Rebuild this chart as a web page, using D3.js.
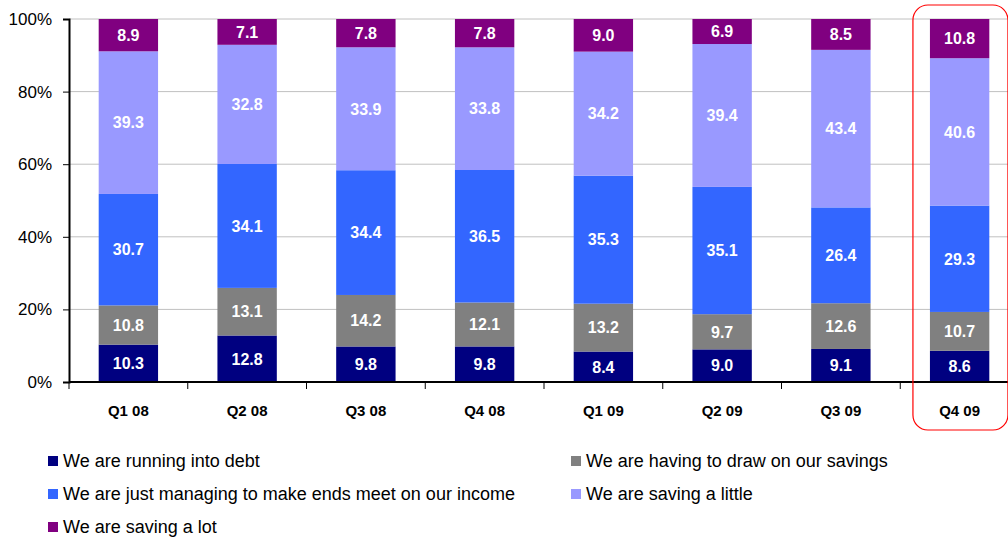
<!DOCTYPE html>
<html>
<head>
<meta charset="utf-8">
<script src="https://cdn.jsdelivr.net/npm/d3@7"></script>
<style>
  body { margin: 0; background: #fff; }
  text { font-family: Arial, "Liberation Sans", sans-serif; }
</style>
</head>
<body>
<div id="canvas"></div>
<script>
"use strict"

// data
let quarters = ["Q1 08", "Q2 08", "Q3 08", "Q4 08", "Q1 09", "Q2 09", "Q3 09", "Q4 09"];
let debt = [10.3, 12.8, 9.8, 9.8, 8.4, 9.0, 9.1, 8.6];
let drawSavings = [10.8, 13.1, 14.2, 12.1, 13.2, 9.7, 12.6, 10.7];
let justManaging = [30.7, 34.1, 34.4, 36.5, 35.3, 35.1, 26.4, 29.3];
let savingLittle = [39.3, 32.8, 33.9, 33.8, 34.2, 39.4, 43.4, 40.6];
let savingLot = [8.9, 7.1, 7.8, 7.8, 9.0, 6.9, 8.5, 10.8];
let yTicks = [0, 0.2, 0.4, 0.6, 0.8, 1];

let seriesNames = [
    "We are running into debt",
    "We are having to draw on our savings",
    "We are just managing to make ends meet on our income",
    "We are saving a little",
    "We are saving a lot"
];
let seriesColors = ["#000080", "#808080", "#3366FF", "#9999FF", "#800080"];
let seriesValues = [debt, drawSavings, justManaging, savingLittle, savingLot];

let rows = quarters.map(function (q, i) {
    let row = { quarter: q };
    seriesNames.forEach(function (name, s) { row[name] = seriesValues[s][i]; });
    return row;
});

let drawing = d3.select("#canvas")
    .append("svg")
    .attr("width", 1008)
    .attr("height", 540);

let plotLeft = 69, plotTop = 19, plotBottom = 382;

let x = d3.scaleBand()
    .domain(quarters)
    .range([plotLeft, 1019])
    .paddingInner(0.5)
    .paddingOuter(0.25);

let y = d3.scaleLinear()
    .domain([0, 1])
    .range([plotBottom, plotTop]);

let stacked = d3.stack()
    .keys(seriesNames)
    .offset(d3.stackOffsetExpand)(rows);

// gridlines
drawing.append("g")
    .selectAll("line")
    .data(yTicks.slice(1))
    .join("line")
    .attr("x1", plotLeft)
    .attr("x2", 1008)
    .attr("y1", d => y(d))
    .attr("y2", d => y(d))
    .attr("stroke", "#C0C0C0")
    .attr("stroke-width", 1);

// bars
let layers = drawing.append("g")
    .selectAll("g")
    .data(stacked)
    .join("g")
    .attr("fill", (d, i) => seriesColors[i]);

layers.selectAll("rect")
    .data(d => d)
    .join("rect")
    .attr("x", d => x(d.data.quarter))
    .attr("width", x.bandwidth())
    .attr("y", d => y(d[1]))
    .attr("height", d => y(d[0]) - y(d[1]));

// value labels
layers.selectAll("text")
    .data((d, i) => d.map(p => ({ p: p, v: seriesValues[i][quarters.indexOf(p.data.quarter)] })))
    .join("text")
    .attr("x", d => x(d.p.data.quarter) + x.bandwidth() / 2)
    .attr("y", d => (y(d.p[0]) + y(d.p[1])) / 2)
    .attr("dy", "0.36em")
    .attr("text-anchor", "middle")
    .attr("fill", "white")
    .attr("font-size", 16)
    .attr("font-weight", "bold")
    .text(d => d.v.toFixed(1));

// y axis
let yAxis = drawing.append("g")
    .attr("transform", "translate(" + plotLeft + ",0)")
    .call(d3.axisLeft(y).tickValues(yTicks).tickFormat(d3.format(".0%")).tickSize(6));
yAxis.select(".domain").attr("stroke", "black").attr("stroke-width", 2);
yAxis.selectAll(".tick line").attr("stroke", "black").attr("stroke-width", 1);
yAxis.selectAll(".tick text")
    .attr("font-size", 17)
    .attr("fill", "#000")
    .attr("x", -17)
    .style("font-family", "Arial, 'Liberation Sans', sans-serif");

// x axis
drawing.append("line")
    .attr("x1", plotLeft)
    .attr("x2", 1008)
    .attr("y1", plotBottom)
    .attr("y2", plotBottom)
    .attr("stroke", "black")
    .attr("stroke-width", 2);

let step = x.step();
drawing.append("g")
    .selectAll("line")
    .data(quarters)
    .join("line")
    .attr("x1", d => x(d) - step * 0.25)
    .attr("x2", d => x(d) - step * 0.25)
    .attr("y1", plotBottom)
    .attr("y2", plotBottom + 7)
    .attr("stroke", "black");

drawing.append("g")
    .selectAll("text")
    .data(quarters)
    .join("text")
    .attr("x", d => x(d) + x.bandwidth() / 2)
    .attr("y", 416)
    .attr("text-anchor", "middle")
    .attr("font-size", 15)
    .attr("font-weight", "bold")
    .text(d => d);

// highlight box around last quarter
let lastQ = quarters[quarters.length - 1];
drawing.append("rect")
    .attr("x", x(lastQ) - 17)
    .attr("y", 5)
    .attr("width", 95)
    .attr("height", 425)
    .attr("rx", 15)
    .attr("fill", "none")
    .attr("stroke", "#FF0000")
    .attr("stroke-width", 1.2);

// legend
let legendPos = [[48, 461], [571, 461], [48, 494], [571, 494], [48, 527]];
let legend = drawing.append("g")
    .selectAll("g")
    .data(seriesNames)
    .join("g")
    .attr("transform", (d, i) => "translate(" + legendPos[i][0] + "," + legendPos[i][1] + ")");

legend.append("rect")
    .attr("x", 0)
    .attr("y", -5)
    .attr("width", 10)
    .attr("height", 10)
    .attr("fill", (d, i) => seriesColors[i]);

legend.append("text")
    .attr("x", 15)
    .attr("y", 0)
    .attr("dy", "0.35em")
    .attr("font-size", 18)
    .attr("fill", "#000")
    .text(d => d);
</script>
</body>
</html>
